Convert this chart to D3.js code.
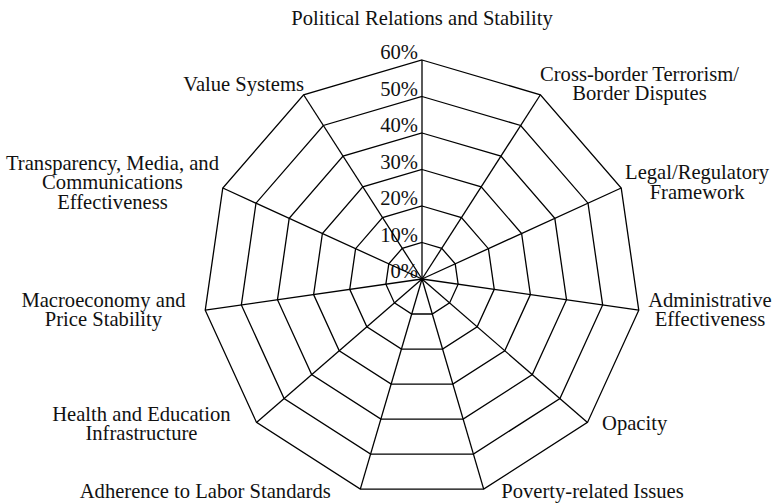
<!DOCTYPE html>
<html>
<head>
<meta charset="utf-8">
<script src="https://cdn.jsdelivr.net/npm/d3@7"></script>
<style>
  body { margin: 0; background: #fff; }
  text { font-family: "Liberation Serif", "Times New Roman", serif; fill: #111; }
</style>
</head>
<body>
<svg id="chart" width="779" height="504"></svg>
<script>
// axis labels, clockwise from the top (each entry = lines of the label)
let axisLabels = [
  ["Political Relations and Stability"],
  ["Cross-border Terrorism/", "Border Disputes"],
  ["Legal/Regulatory", "Framework"],
  ["Administrative", "Effectiveness"],
  ["Opacity"],
  ["Poverty-related Issues"],
  ["Adherence to Labor Standards"],
  ["Health and Education", "Infrastructure"],
  ["Macroeconomy and", "Price Stability"],
  ["Transparency, Media, and", "Communications", "Effectiveness"],
  ["Value Systems"]
]
let tickValues = [0, 10, 20, 30, 40, 50, 60]
let tickLabels = ["0%", "10%", "20%", "30%", "40%", "50%", "60%"]

//======================= SET UP SVG =========================
let svg = d3.select("#chart"),
    cx = 422, cy = 279,
    radius = 219,
    fontSize = 20.6,
    lineHeight = 19.5

let r = d3.scaleLinear().domain([0, 60]).range([0, radius])
let angle = d3.scaleLinear().domain([0, axisLabels.length]).range([0, 2 * Math.PI])

function point(i, v) {
  let a = angle(i)
  return [cx + r(v) * Math.sin(a), cy - r(v) * Math.cos(a)]
}

let g = svg.append("g")

//======================= TICK LABELS =========================
g.selectAll(".tick")
  .data(tickValues)
  .enter().append("text")
    .attr("class", "tick")
    .attr("x", cx - 4)
    .attr("y", function(d) { return cy - r(d) - 1 })
    .attr("text-anchor", "end")
    .style("font-size", fontSize + "px")
    .text(function(d, i) { return tickLabels[i] })

//======================= GRID RINGS =========================
let ringLine = d3.line()
g.selectAll(".ring")
  .data(tickValues.filter(function(d) { return d > 0 }))
  .enter().append("path")
    .attr("class", "ring")
    .attr("d", function(v) {
      return ringLine(axisLabels.map(function(l, i) { return point(i, v) })) + "Z"
    })
    .attr("fill", "none")
    .attr("stroke", "#000")
    .attr("stroke-width", 1.3)
    .attr("stroke-linejoin", "miter")

//======================= SPOKES =========================
g.selectAll(".spoke")
  .data(axisLabels)
  .enter().append("line")
    .attr("class", "spoke")
    .attr("x1", cx).attr("y1", cy)
    .attr("x2", function(d, i) { return point(i, 60)[0] })
    .attr("y2", function(d, i) { return point(i, 60)[1] })
    .attr("stroke", "#000")
    .attr("stroke-width", 1.3)

//======================= AXIS LABELS =========================
let labels = g.selectAll(".axisLabel")
  .data(axisLabels)
  .enter().append("text")
    .attr("class", "axisLabel")
    .attr("text-anchor", "middle")
    .style("font-size", fontSize + "px")

labels.each(function(lines, i) {
  let el = d3.select(this)
  let tspans = el.selectAll("tspan").data(lines).enter().append("tspan").text(function(d) { return d })
  let w = d3.max(tspans.nodes(), function(n) { return n.getComputedTextLength() })
  let a = angle(i), s = Math.sin(a), c = Math.cos(a)
  let v = point(i, 60)
  let x, yMid
  if (Math.abs(s) < 0.1) {
    x = v[0]
    yMid = v[1] - 41
  } else {
    // labels on the lower left sit a bit further out
    let pad = (s < 0 && c < 0) ? 18 - 12 * c : 8 - 10 * c
    x = s > 0 ? v[0] + pad + w / 2 : v[0] - pad - w / 2
    yMid = v[1] - (c > 0 ? 12 : 3) * c
  }
  let y0 = yMid - (lines.length - 1) * lineHeight / 2 + 6
  tspans.attr("x", x).attr("y", function(d, k) { return y0 + k * lineHeight })
})
</script>
</body>
</html>
